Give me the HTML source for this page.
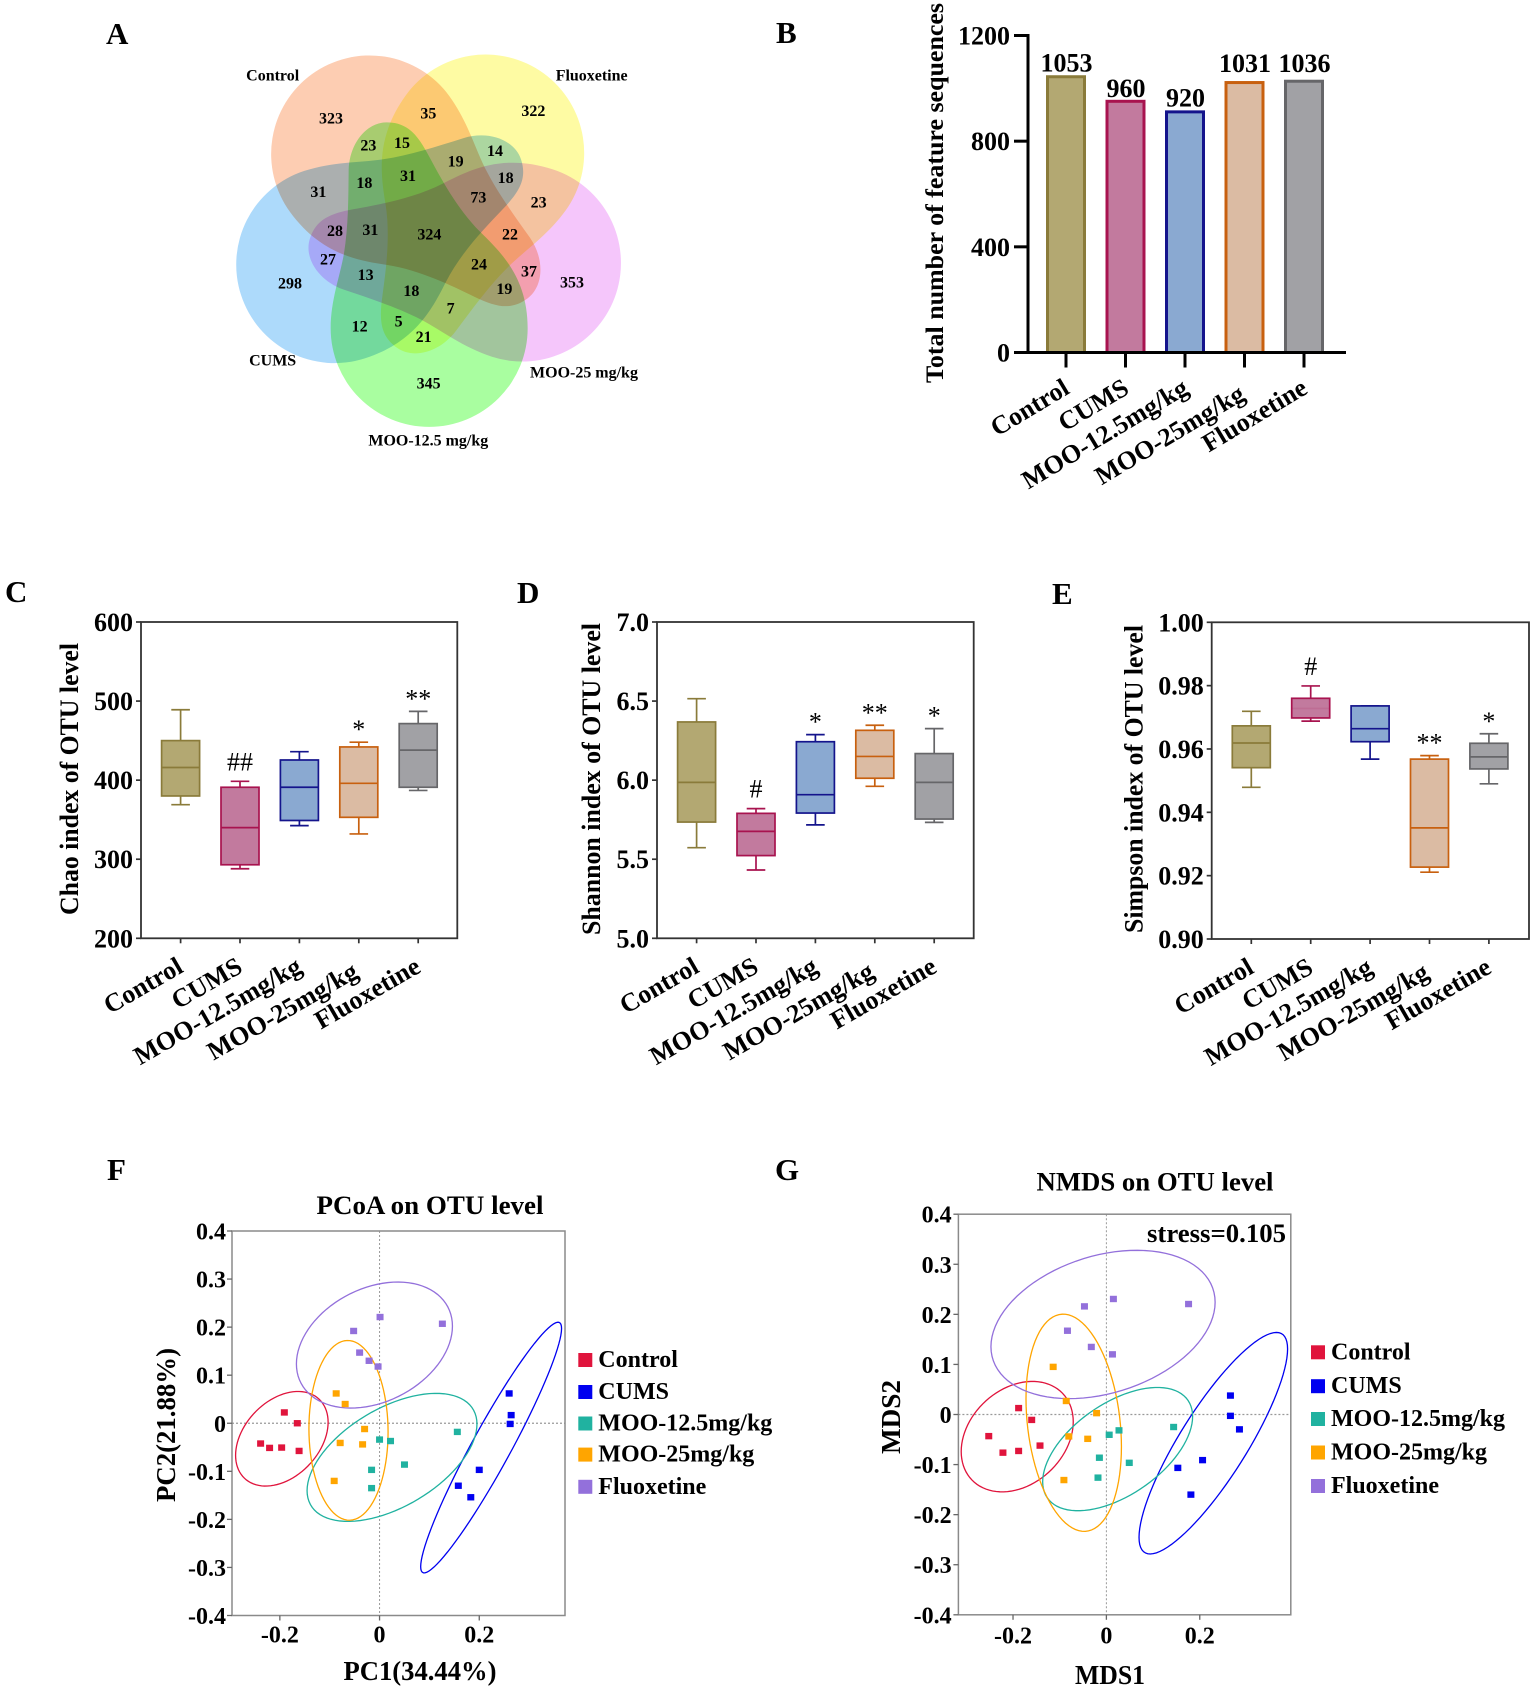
<!DOCTYPE html>
<html lang="en">
<head>
<meta charset="utf-8">
<title>OTU diversity figure</title>
<style>
html,body{margin:0;padding:0;background:#fff;}
svg{display:block;font-family:"Liberation Serif",serif;font-weight:bold;fill:#000;}
.vn{font-size:48px;text-anchor:middle;}
.panel{font-size:31px;}
.venn-shape{mix-blend-mode:multiply;}
</style>
</head>
<body>
<svg id="figure" xmlns="http://www.w3.org/2000/svg" width="1535" height="1690" viewBox="0 0 1535 1690">
  <rect x="0" y="0" width="1535" height="1690" fill="#fff"/>
  <text class="panel" x="106" y="44">A</text>
  <text class="panel" x="776" y="43">B</text>
  <text class="panel" x="5" y="602">C</text>
  <text class="panel" x="517" y="603">D</text>
  <text class="panel" x="1052" y="604">E</text>
  <text class="panel" x="107" y="1180">F</text>
  <text class="panel" x="775" y="1180">G</text>

  <g id="venn" transform="translate(200,0) scale(0.33333)">
    <defs>
      <path id="blob-base" d="M983 985 A295.5 295.5 0 1 1 392 985 C392 900 420 830 432 760 C445 680 445 600 446 510 C448 430 500 367 560 367 C620 367 650 400 685 465 C720 530 770 625 840 695 C900 755 983 830 983 985 Z"/>
      <path id="blob-wide" d="M983 996 A295.5 295.5 0 1 1 392 996 C392 905 420 830 432 760 C445 680 445 600 446 510 C448 430 500 367 560 367 C620 367 650 400 685 465 C720 530 770 625 840 695 C900 755 983 835 983 996 Z"/>
    </defs>
    <use class="venn-shape" href="#blob-base" fill="#a9fea0"/>
    <use class="venn-shape" href="#blob-wide" fill="#addafb" transform="rotate(72 685 700)"/>
    <use class="venn-shape" href="#blob-wide" fill="#fdcdb2" transform="rotate(144 685 700)"/>
    <use class="venn-shape" href="#blob-wide" fill="#fefba3" transform="rotate(216 685 700)"/>
    <use class="venn-shape" href="#blob-wide" fill="#f5c6fb" transform="rotate(288 685 700)"/>
    <g>
      <text class="vn" x="393" y="371">323</text><text class="vn" x="685" y="356">35</text><text class="vn" x="1000" y="348">322</text>
      <text class="vn" x="505" y="451">23</text><text class="vn" x="606" y="444">15</text><text class="vn" x="767" y="499">19</text>
      <text class="vn" x="885" y="468">14</text><text class="vn" x="493" y="564">18</text><text class="vn" x="624" y="543">31</text>
      <text class="vn" x="917" y="549">18</text><text class="vn" x="355" y="591">31</text><text class="vn" x="835" y="608">73</text>
      <text class="vn" x="1016" y="623">23</text><text class="vn" x="405" y="708">28</text><text class="vn" x="511" y="705">31</text>
      <text class="vn" x="688" y="719">324</text><text class="vn" x="930" y="718">22</text><text class="vn" x="384" y="794">27</text>
      <text class="vn" x="497" y="840">13</text><text class="vn" x="837" y="809">24</text><text class="vn" x="987" y="829">37</text>
      <text class="vn" x="270" y="865">298</text><text class="vn" x="1116" y="862">353</text><text class="vn" x="634" y="888">18</text>
      <text class="vn" x="913" y="882">19</text><text class="vn" x="752" y="940">7</text><text class="vn" x="479" y="994">12</text>
      <text class="vn" x="596" y="979">5</text><text class="vn" x="671" y="1026">21</text><text class="vn" x="686" y="1165">345</text>
    </g>
    <text class="vn" x="218" y="242">Control</text>
    <text class="vn" x="1175" y="242">Fluoxetine</text>
    <text class="vn" x="218" y="1097">CUMS</text>
    <text class="vn" x="1152" y="1132">MOO-25 mg/kg</text>
    <text class="vn" x="685" y="1336">MOO-12.5 mg/kg</text>
  </g>
</svg>
<script>
// ---------- shared categories ----------
const groupNames = ["Control", "CUMS", "MOO-12.5mg/kg", "MOO-25mg/kg", "Fluoxetine"];
const groupFills = ["#b3a872", "#c27a9e", "#8aa9d1", "#dbbba3", "#a1a1a5"];
const groupStrokes = ["#8a7b3a", "#a8134f", "#14148c", "#c8600f", "#666669"];

// ---------- panel B ----------
const barValues = [1053, 960, 920, 1031, 1036];
const barTicks = [0, 400, 800, 1200];

// ---------- panel C ----------
const chaoHigh = [489, 398.5, 436, 448, 487];
const chaoQ3 = [450, 391, 425.5, 442, 471.5];
const chaoMedian = [416, 340, 391, 396, 438];
const chaoQ1 = [380, 293, 349, 353, 391];
const chaoLow = [369, 288, 342.5, 332, 387];
const chaoMarks = ["", "##", "", "*", "**"];
const chaoTicks = ["200", "300", "400", "500", "600"];

// ---------- panel D ----------
const shannonHigh = [6.515, 5.82, 6.288, 6.347, 6.326];
const shannonQ3 = [6.368, 5.79, 6.243, 6.315, 6.168];
const shannonMedian = [5.986, 5.676, 5.908, 6.15, 5.986];
const shannonQ1 = [5.735, 5.523, 5.792, 6.012, 5.754];
const shannonLow = [5.573, 5.432, 5.717, 5.961, 5.733];
const shannonMarks = ["", "#", "*", "**", "*"];
const shannonTicks = ["5.0", "5.5", "6.0", "6.5", "7.0"];

// ---------- panel E ----------
const simpsonHigh = [0.9719, 0.9799, 0.9736, 0.9579, 0.9648];
const simpsonQ3 = [0.9673, 0.976, 0.9736, 0.9568, 0.9618];
const simpsonMedian = [0.9619, 0.9728, 0.9664, 0.9351, 0.9575];
const simpsonQ1 = [0.9541, 0.9698, 0.9623, 0.9227, 0.9537];
const simpsonLow = [0.9479, 0.9688, 0.9568, 0.9211, 0.949];
const simpsonMarks = ["", "#", "", "**", "*"];
const simpsonTicks = ["0.90", "0.92", "0.94", "0.96", "0.98", "1.00"];

// ---------- panels F and G ----------
const scatterNames = ["Control", "CUMS", "MOO-12.5mg/kg", "MOO-25mg/kg", "Fluoxetine"];
const scatterColors = ["#e0143c", "#0000f0", "#20b2a0", "#ffa500", "#9370db"];
const axisXTicks = [-0.2, 0, 0.2];
const axisYTicks = [-0.4, -0.3, -0.2, -0.1, 0, 0.1, 0.2, 0.3, 0.4];

const pcoaControlX = [-0.2386, -0.2206, -0.1964, -0.1614, -0.191, -0.165];
const pcoaControlY = [-0.0422, -0.0513, -0.0506, -0.0576, 0.0225, 0];
const pcoaCumsX = [0.26, 0.264, 0.262, 0.2, 0.158, 0.183];
const pcoaCumsY = [0.062, 0.0169, -0.0014, -0.097, -0.13, -0.154];
const pcoaMoo125X = [0.156, 0, 0.022, 0.05, -0.016, -0.016];
const pcoaMoo125Y = [-0.018, -0.034, -0.037, -0.086, -0.097, -0.135];
const pcoaMoo25X = [-0.087, -0.069, -0.03, -0.079, -0.034, -0.091];
const pcoaMoo25Y = [0.062, 0.04, -0.012, -0.041, -0.044, -0.12];
const pcoaFluoxX = [-0.052, 0.001, 0.126, -0.04, -0.021, -0.003];
const pcoaFluoxY = [0.192, 0.221, 0.207, 0.147, 0.13, 0.118];
const pcoaEllipseCx = [-0.196, 0.2238, 0.025, -0.0623, -0.0103];
const pcoaEllipseCy = [-0.0323, -0.0506, -0.071, -0.0148, 0.1627];
const pcoaEllipseSx = [0.0928, 0.1413, 0.1704, 0.0794, 0.1565];
const pcoaEllipseSy = [0.0984, 0.2608, 0.1332, 0.187, 0.1311];
const pcoaEllipseR = [0.35, 0.95, 0.52, -0.02, 0.3];

const nmdsControlX = [-0.252, -0.2216, -0.188, -0.1422, -0.188, -0.16];
const nmdsControlY = [-0.0432, -0.0762, -0.0728, -0.0621, 0.0128, -0.0108];
const nmdsCumsX = [0.2657, 0.2657, 0.285, 0.206, 0.153, 0.181];
const nmdsCumsY = [0.0378, -0.0027, -0.0297, -0.0911, -0.1066, -0.16];
const nmdsMoo125X = [0.144, 0.006, 0.027, -0.015, 0.049, -0.018];
const nmdsMoo125Y = [-0.025, -0.0405, -0.0317, -0.0863, -0.0965, -0.1261];
const nmdsMoo25X = [-0.114, -0.086, -0.021, -0.0805, -0.04, -0.091];
const nmdsMoo25Y = [0.0951, 0.027, 0.0027, -0.0438, -0.0486, -0.1309];
const nmdsFluoxX = [0.015, -0.047, 0.176, -0.0834, -0.0323, 0.013];
const nmdsFluoxY = [0.2307, 0.2159, 0.2206, 0.1673, 0.1349, 0.1201];
const nmdsEllipseCx = [-0.191, 0.229, 0.0241, -0.07, -0.0072];
const nmdsEllipseCy = [-0.0442, -0.0573, -0.0691, -0.0165, 0.1798];
const nmdsEllipseSx = [0.12, 0.1591, 0.1606, 0.1022, 0.2401];
const nmdsEllipseSy = [0.1103, 0.2212, 0.1231, 0.2169, 0.1481];
const nmdsEllipseR = [0.27, 0.85, 0.53, -0.22, 0.3];

const NS = "http://www.w3.org/2000/svg";
const root = document.getElementById("figure");

function make(tag, props, parent) {
  const node = document.createElementNS(NS, tag);
  for (const key in props) node.setAttribute(key, props[key]);
  (parent || root).appendChild(node);
  return node;
}
function label(str, props, parent) {
  const node = make("text", props, parent);
  node.textContent = str;
  return node;
}
function slug(str) {
  return String(str).toLowerCase().replace(/[^a-z0-9]+/g, "-").replace(/^-|-$/g, "");
}

// ---------- bar chart (panel B) ----------
function drawBars() {
  const g = make("g", {});
  
  
  const axisX = 1028, axisY = 352.5, axisTop = 35.5;
  const yScale = v => axisY - v * (axisY - axisTop) / 1200;
  const xScale = i => 1066 + 59.5 * i;
  const labelLift = [3, 2, 3, 8, 7];

  barValues.forEach((v, i) => {
    const barTop = yScale(v) + 2.4;
    const bar = make("rect", {x: xScale(i) - 18.5, y: barTop, width: 37, height: axisY - barTop, fill: groupFills[i], stroke: groupStrokes[i], "stroke-width": 3}, g);
    
    
    const val = label(String(v), {x: xScale(i) + 0.5, y: yScale(v) - labelLift[i], "text-anchor": "middle", "font-size": 26}, g);
    
    
    const tick = make("line", {x1: xScale(i), x2: xScale(i), y1: axisY, y2: axisY + 15, stroke: "#000", "stroke-width": 3}, g);
    
    
    const nudgeX = i === 3 ? -3 : 0;
    const nudgeY = i === 3 ? 6 : 0;
    const cat = label(groupNames[i], {transform: "translate(" + (xScale(i) + 5 + nudgeX) + "," + (axisY + 40 + nudgeY) + ") rotate(-31)", "text-anchor": "end", "font-size": 26}, g);
    
    
  });
  const yAxis = make("line", {x1: axisX, x2: axisX, y1: axisTop - 1.5, y2: axisY + 1.5, stroke: "#000", "stroke-width": 3}, g);
  
  
  const xAxis = make("line", {x1: axisX, x2: 1346, y1: axisY, y2: axisY, stroke: "#000", "stroke-width": 3}, g);
  
  
  barTicks.forEach(t => {
    const tick = make("line", {x1: axisX - 14, x2: axisX, y1: yScale(t), y2: yScale(t), stroke: "#000", "stroke-width": 3}, g);
    
    
    const tl = label(String(t), {x: 1010, y: yScale(t) + 9, "text-anchor": "end", "font-size": 26}, g);
    
    
  });
  const title = label("Total number of feature sequences", {transform: "translate(943,193) rotate(-90)", "text-anchor": "middle", "font-size": 25, textLength: 380, lengthAdjust: "spacingAndGlyphs"}, g);
  
  
}

// ---------- box plots (panels C, D, E) ----------
function drawBoxes(cfg) {
  const g = make("g", {});
  
  
  const yScale = v => cfg.bottom - (v - cfg.min) / (cfg.max - cfg.min) * (cfg.bottom - cfg.top);
  const xScale = i => cfg.left + 39.6 + 59.4 * i;

  cfg.ticks.forEach(t => {
    const y = yScale(parseFloat(t));
    const tick = make("line", {x1: cfg.left - 5, x2: cfg.left, y1: y, y2: y, stroke: "#333", "stroke-width": 1.7}, g);
    
    
    const tl = label(t, {x: cfg.left - 8, y: y + 9, "text-anchor": "end", "font-size": 26}, g);
    
    
  });

  groupNames.forEach((name, i) => {
    const x = xScale(i), color = groupStrokes[i];
    const box = make("g", {stroke: color, "stroke-width": 1.7}, g);
    
    
    make("line", {x1: x, x2: x, y1: yScale(cfg.high[i]), y2: yScale(cfg.low[i])}, box);
    make("line", {x1: x - 9.3, x2: x + 9.3, y1: yScale(cfg.high[i]), y2: yScale(cfg.high[i])}, box);
    make("line", {x1: x - 9.3, x2: x + 9.3, y1: yScale(cfg.low[i]), y2: yScale(cfg.low[i])}, box);
    make("rect", {x: x - 19, y: yScale(cfg.q3[i]), width: 38, height: yScale(cfg.q1[i]) - yScale(cfg.q3[i]), fill: groupFills[i]}, box);
    make("line", {x1: x - 19, x2: x + 19, y1: yScale(cfg.median[i]), y2: yScale(cfg.median[i]), "stroke-opacity": (cfg.faintMedian === i ? 0.12 : 1)}, box);

    if (cfg.marks[i]) {
      const isHash = cfg.marks[i].charAt(0) === "#";
      const mark = label(cfg.marks[i], {x: x, y: yScale(cfg.high[i]) - (isHash ? 11 : 4), "text-anchor": "middle", "font-size": 26, "font-weight": "normal"}, g);
      
      
    }
    const tick = make("line", {x1: x, x2: x, y1: cfg.bottom, y2: cfg.bottom + 5, stroke: "#333", "stroke-width": 1.7}, g);
    
    
    const nudgeX = i === 3 ? -3 : 0;
    const nudgeY = i === 3 ? 5 : 0;
    const cat = label(name, {transform: "translate(" + (x + 4 + nudgeX) + "," + (cfg.bottom + 33 + nudgeY) + ") rotate(-30)", "text-anchor": "end", "font-size": 26}, g);
    
    
  });

  const frame = make("rect", {x: cfg.left, y: cfg.top, width: cfg.right - cfg.left, height: cfg.bottom - cfg.top, fill: "none", stroke: "#333", "stroke-width": 1.8}, g);
  
  
  const title = label(cfg.title, {transform: "translate(" + cfg.titleX + ",779) rotate(-90)", "text-anchor": "middle", "font-size": 26, textLength: cfg.titleLen, lengthAdjust: "spacingAndGlyphs"}, g);
  
  
}

// ---------- ordination plots (panels F, G) ----------
function drawScatter(cfg) {
  const g = make("g", {});
  
  
  const xScale = v => cfg.left + (v - cfg.xMin) / (cfg.xMax - cfg.xMin) * (cfg.right - cfg.left);
  const yScale = v => cfg.bottom - (v + 0.4) / 0.8 * (cfg.bottom - cfg.top);

  const zeroV = make("line", {x1: xScale(0), x2: xScale(0), y1: cfg.top, y2: cfg.bottom, stroke: "#999", "stroke-width": 1, "stroke-dasharray": "2 2"}, g);
  
  
  const zeroH = make("line", {x1: cfg.left, x2: cfg.right, y1: yScale(0), y2: yScale(0), stroke: "#999", "stroke-width": 1.2, "stroke-dasharray": "2 2"}, g);
  
  
  const frame = make("rect", {x: cfg.left, y: cfg.top, width: cfg.right - cfg.left, height: cfg.bottom - cfg.top, fill: "none", stroke: "#8a8a8a", "stroke-width": 1.5}, g);
  
  

  axisYTicks.forEach(t => {
    const y = yScale(t);
    const tick = make("line", {x1: cfg.left - 5, x2: cfg.left, y1: y, y2: y, stroke: "#666", "stroke-width": 1.3}, g);
    
    
    const tl = label(t === 0 ? "0" : t.toFixed(1), {x: cfg.yLabelX, y: y + 8.5, "text-anchor": "end", "font-size": 24}, g);
    
    
  });
  axisXTicks.forEach(t => {
    const x = xScale(t);
    const tick = make("line", {x1: x, x2: x, y1: cfg.bottom, y2: cfg.bottom + 5, stroke: "#666", "stroke-width": 1.3}, g);
    
    
    const tl = label(t === 0 ? "0" : t.toFixed(1), {x: x, y: cfg.xLabelY, "text-anchor": "middle", "font-size": 24}, g);
    
    
  });

  scatterNames.forEach((name, s) => {
    const cx = cfg.ellipse.cx[s], cy = cfg.ellipse.cy[s], sx = cfg.ellipse.sx[s], sy = cfg.ellipse.sy[s], r = cfg.ellipse.r[s];
    const parts = [];
    for (let k = 0; k < 90; k++) {
      const t = k / 90 * Math.PI * 2;
      const dx = cx + sx * Math.cos(t);
      const dy = cy + sy * (r * Math.cos(t) + Math.sqrt(1 - r * r) * Math.sin(t));
      parts.push((k ? "L" : "M") + xScale(dx).toFixed(2) + " " + yScale(dy).toFixed(2));
    }
    const ell = make("path", {d: parts.join(" ") + " Z", fill: "none", stroke: scatterColors[s], "stroke-width": 1.3}, g);
    
    
  });
  scatterNames.forEach((name, s) => {
    cfg.xs[s].forEach((vx, k) => {
      const pt = make("rect", {x: xScale(vx) - 3.5, y: yScale(cfg.ys[s][k]) - 3.2, width: 7, height: 6.4, fill: scatterColors[s]}, g);
      
      
    });
    const swatch = make("rect", {x: cfg.legendX, y: cfg.legendY[s] - 7, width: 14, height: 14, fill: scatterColors[s]}, g);
    
    
    const entry = label(name, {x: cfg.legendX + 20, y: cfg.legendY[s] + 7, "font-size": 24}, g);
    
    
  });

  const title = label(cfg.title, {x: cfg.titleX, y: cfg.titleY, "text-anchor": "middle", "font-size": 26, textLength: cfg.titleLen, lengthAdjust: "spacingAndGlyphs"}, g);
  
  
  const xt = label(cfg.xTitle, {x: cfg.xTitleX, y: cfg.xTitleY, "text-anchor": "middle", "font-size": 27, textLength: cfg.xTitleLen, lengthAdjust: "spacingAndGlyphs"}, g);
  
  
  const yt = label(cfg.yTitle, {transform: "translate(" + cfg.yTitleX + "," + cfg.yTitleY + ") rotate(-90)", "text-anchor": "middle", "font-size": 27, textLength: cfg.yTitleLen, lengthAdjust: "spacingAndGlyphs"}, g);
  
  
}

drawBars();

drawBoxes({name: "box-plot-chao", left: 141, right: 457.3, top: 622, bottom: 938.3, min: 200, max: 600,
  high: chaoHigh, q3: chaoQ3, median: chaoMedian, q1: chaoQ1, low: chaoLow, marks: chaoMarks, ticks: chaoTicks,
  title: "Chao index of OTU level", titleX: 78, titleLen: 272});
drawBoxes({name: "box-plot-shannon", left: 657, right: 973.7, top: 622, bottom: 938.3, min: 5, max: 7,
  high: shannonHigh, q3: shannonQ3, median: shannonMedian, q1: shannonQ1, low: shannonLow, marks: shannonMarks, ticks: shannonTicks,
  title: "Shannon index of OTU level", titleX: 600, titleLen: 312});
drawBoxes({name: "box-plot-simpson", left: 1211.7, right: 1529, top: 622.3, bottom: 939, min: 0.9, max: 1,
  high: simpsonHigh, q3: simpsonQ3, median: simpsonMedian, q1: simpsonQ1, low: simpsonLow, marks: simpsonMarks, ticks: simpsonTicks, faintMedian: 1,
  title: "Simpson index of OTU level", titleX: 1142.7, titleLen: 308});

drawScatter({name: "pcoa-plot", left: 232, right: 565, top: 1231, bottom: 1615.5, xMin: -0.296, xMax: 0.372,
  xs: [pcoaControlX, pcoaCumsX, pcoaMoo125X, pcoaMoo25X, pcoaFluoxX],
  ys: [pcoaControlY, pcoaCumsY, pcoaMoo125Y, pcoaMoo25Y, pcoaFluoxY],
  ellipse: {cx: pcoaEllipseCx, cy: pcoaEllipseCy, sx: pcoaEllipseSx, sy: pcoaEllipseSy, r: pcoaEllipseR},
  yLabelX: 226, xLabelY: 1642.5, legendX: 578.3, legendY: [1360, 1392, 1423.5, 1454.6, 1486.8],
  title: "PCoA on OTU level", titleX: 430, titleY: 1214, titleLen: 227,
  xTitle: "PC1(34.44%)", xTitleX: 420, xTitleY: 1680, xTitleLen: 153,
  yTitle: "PC2(21.88%)", yTitleX: 175, yTitleY: 1425, yTitleLen: 154});

drawScatter({name: "nmds-plot", left: 958.4, right: 1290.8, top: 1214.2, bottom: 1614.8, xMin: -0.317, xMax: 0.395,
  xs: [nmdsControlX, nmdsCumsX, nmdsMoo125X, nmdsMoo25X, nmdsFluoxX],
  ys: [nmdsControlY, nmdsCumsY, nmdsMoo125Y, nmdsMoo25Y, nmdsFluoxY],
  ellipse: {cx: nmdsEllipseCx, cy: nmdsEllipseCy, sx: nmdsEllipseSx, sy: nmdsEllipseSy, r: nmdsEllipseR},
  yLabelX: 951.6, xLabelY: 1643.6, legendX: 1311, legendY: [1352.3, 1386.2, 1419, 1452.5, 1486],
  title: "NMDS on OTU level", titleX: 1155, titleY: 1190.5, titleLen: 237,
  xTitle: "MDS1", xTitleX: 1110, xTitleY: 1684, xTitleLen: 70,
  yTitle: "MDS2", yTitleX: 900, yTitleY: 1417, yTitleLen: 74});

const stressLabel = label("stress=0.105", {x: 1286, y: 1242, "text-anchor": "end", "font-size": 26, textLength: 139, lengthAdjust: "spacingAndGlyphs"});


</script>
</body>
</html>
